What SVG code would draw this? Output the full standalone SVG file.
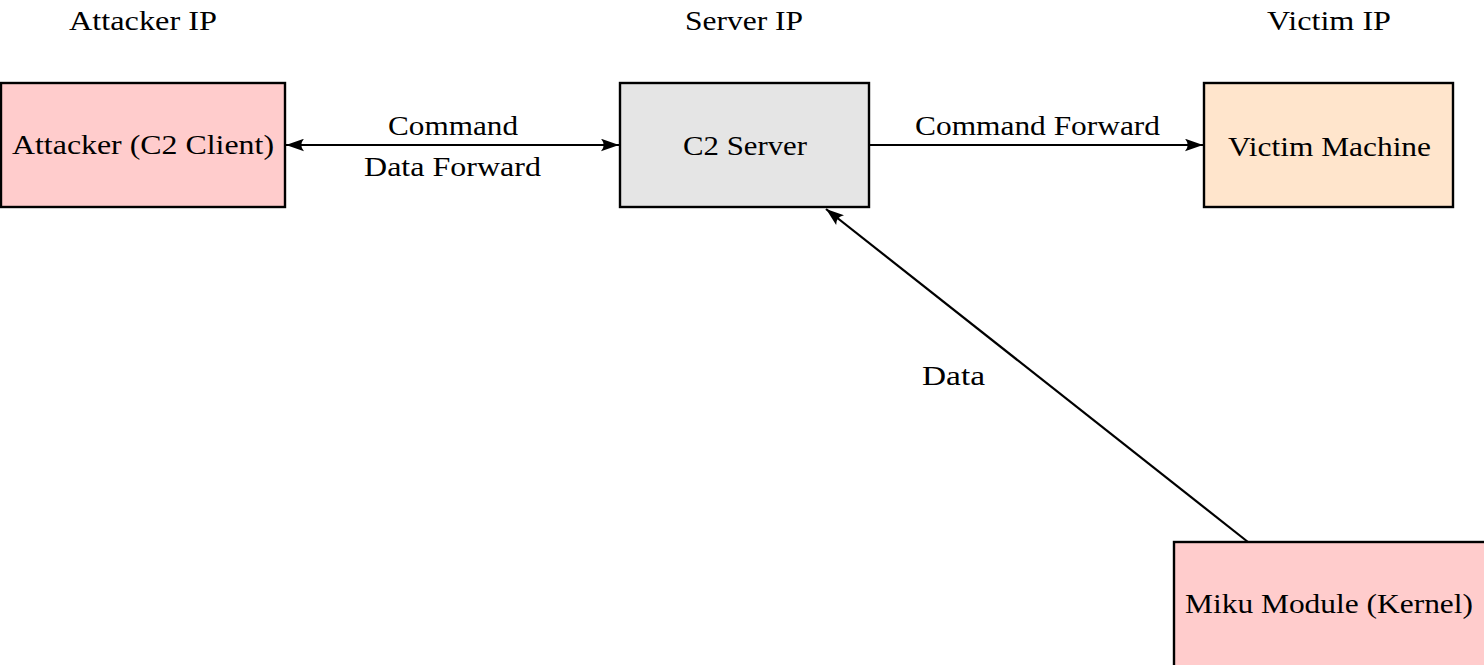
<svg xmlns="http://www.w3.org/2000/svg" width="1484" height="665" viewBox="0 0 1484 665">
<style>
text{font-family:"Liberation Serif","DejaVu Serif",serif;font-size:28px;fill:#000;text-anchor:middle}
.box{stroke:#000;stroke-width:2.4}
.conn{stroke:#000;stroke-width:2.2;fill:none}
</style>
<defs>
<marker id="ah2" viewBox="0 0 20 14" refX="20" refY="7" markerWidth="18" markerHeight="13" markerUnits="userSpaceOnUse" orient="auto-start-reverse">
<path d="M0,0 Q6,7 0,14 L20,7 z" fill="#000"/>
</marker>
</defs>
<g id="ip-labels">
<text x="143" y="30" textLength="148" lengthAdjust="spacingAndGlyphs">Attacker IP</text>
<text x="744" y="30" textLength="118" lengthAdjust="spacingAndGlyphs">Server IP</text>
<text x="1329" y="30" textLength="124" lengthAdjust="spacingAndGlyphs">Victim IP</text>
</g>
<g id="attacker">
<rect class="box" x="1" y="83" width="284" height="124" fill="#FFCCCC"/>
<text x="143" y="154" textLength="262" lengthAdjust="spacingAndGlyphs">Attacker (C2 Client)</text>
</g>
<g id="server">
<rect class="box" x="620" y="83" width="249" height="124" fill="#E5E5E5"/>
<text x="745" y="155" textLength="124" lengthAdjust="spacingAndGlyphs">C2 Server</text>
</g>
<g id="victim">
<rect class="box" x="1204" y="83" width="249" height="124" fill="#FFE5CC"/>
<text x="1329.5" y="156" textLength="203" lengthAdjust="spacingAndGlyphs">Victim Machine</text>
</g>
<g id="miku">
<rect class="box" x="1174" y="542" width="320" height="140" fill="#FFCCCC"/>
<text x="1329" y="613" textLength="288" lengthAdjust="spacingAndGlyphs">Miku Module (Kernel)</text>
</g>
<g id="connectors">
<line class="conn" x1="286" y1="145" x2="619" y2="145" marker-start="url(#ah2)" marker-end="url(#ah2)"/>
<line class="conn" x1="870" y1="145" x2="1203" y2="145" marker-end="url(#ah2)"/>
<line class="conn" x1="1248" y1="542" x2="826" y2="209" marker-end="url(#ah2)"/>
<text x="453" y="135" textLength="130" lengthAdjust="spacingAndGlyphs">Command</text>
<text x="452.5" y="176" textLength="177" lengthAdjust="spacingAndGlyphs">Data Forward</text>
<text x="1037.5" y="135" textLength="245" lengthAdjust="spacingAndGlyphs">Command Forward</text>
<text x="953.5" y="385" textLength="63" lengthAdjust="spacingAndGlyphs">Data</text>
</g>
</svg>
